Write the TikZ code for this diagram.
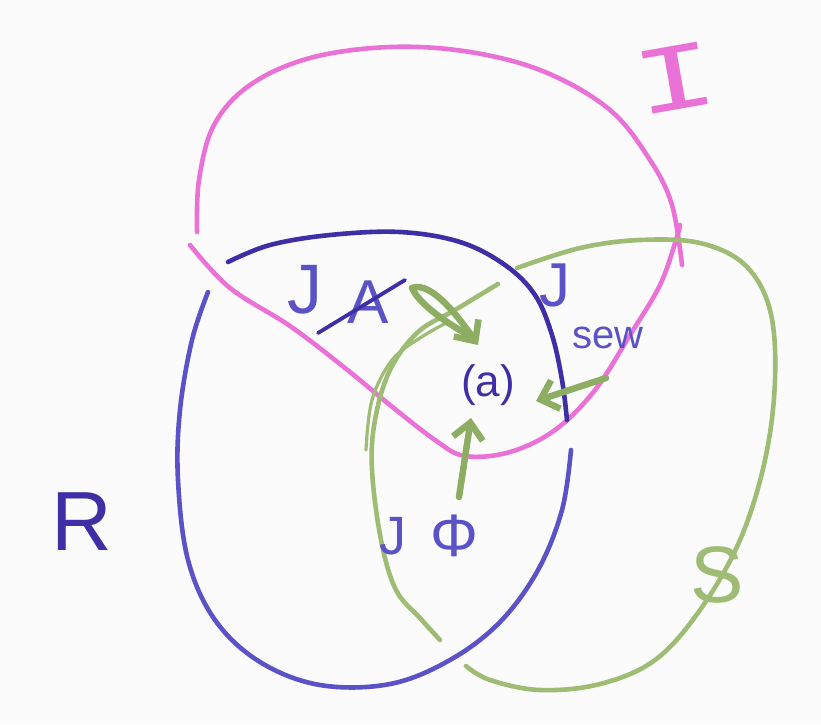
\documentclass[tikz,border=0pt]{standalone}
\usepackage{fontspec}
\setmainfont{Liberation Sans}
\newfontfamily\romanfont{Liberation Mono}
\usetikzlibrary{arrows.meta}
\definecolor{pinkink}{HTML}{EA72D6}
\definecolor{blueink}{HTML}{5A52C6}
\definecolor{darkblue}{HTML}{3E2FA6}
\definecolor{greenink}{HTML}{9EBC74}
\definecolor{greenarrow}{HTML}{8DAE62}
\tikzset{
  pinkline/.style={pinkink, line width=4.6pt, line cap=round, line join=round},
  blueline/.style={blueink, line width=4.6pt, line cap=round, line join=round},
  greenline/.style={greenink, line width=4.6pt, line cap=round, line join=round},
  garrow/.style={greenarrow, line width=6.5pt, line cap=round, -{Straight Barb[length=16pt,width=30pt,line width=6.5pt]}},
  lab/.style={text=blueink, inner sep=0pt},
}
\newcommand{\fsz}[1]{\fontsize{#1}{#1}\selectfont}
\begin{document}
\begin{tikzpicture}[x=1pt,y=-1pt]
\fill[white!97!gray] (0,0) rectangle (821,724);
\useasboundingbox (0,0) rectangle (821,724);

% pink set I
\draw[pinkline] plot[smooth, tension=0.6] coordinates {(197,232) (199,180) (214,125) (250,85) (310,58) (390,47) (470,52) (545,72) (610,110) (650,160) (672,205) (682,265)};
\draw[pinkline] plot[smooth, tension=0.6] coordinates {(190,245) (230,288) (290,326) (345,368) (390,405) (435,440) (465,456) (510,452) (555,430) (595,390) (630,335) (660,285) (676,240) (680,225)};

% blue set R
\draw[blueline, darkblue] plot[smooth, tension=0.6] coordinates {(228,262) (270,245) (330,235) (400,232) (460,242) (505,265) (535,295) (552,335) (562,380) (567,420)};
\draw[blueline] plot[smooth, tension=0.6] coordinates {(208,292) (192,340) (180,410) (178,480) (188,560) (215,620) (260,662) (320,685) (390,684) (450,660) (500,622) (538,570) (562,510) (571,450)};

% green set S
\draw[greenline] plot[smooth, tension=0.6] coordinates {(517,268) (580,248) (640,240) (700,243) (745,265) (770,310) (775,380) (765,460) (740,540) (700,610) (655,660) (600,684) (540,690) (490,680) (466,666)};
\draw[greenline] plot[smooth, tension=0.6] coordinates {(440,640) (420,618) (396,590) (381,540) (372,470) (375,420) (390,370) (418,332) (455,310) (498,284)};
\draw[greenline, line width=3.2pt] plot[smooth, tension=0.6] coordinates {(366,450) (372,400) (392,360) (420,338) (448,322)};

% green arrows
\draw[greenarrow, line width=6.5pt, line cap=round] (412,288) .. controls (420,306) and (452,326) .. (470,336);
\draw[garrow] (412,288) .. controls (432,280) and (462,322) .. (478,345);
\draw[garrow] (606,378) -- (536,401);
\draw[garrow] (459,497) -- (471,418);

% labels
\node[lab, text=pinkink, font=\romanfont\fsz{96}, rotate=10, xscale=1.45] (I) at (675,78) {I};
\node[lab, font=\fsz{70}] (J1) at (305,290) {J};
\node[lab, font=\fsz{62}] (A) at (368,302) {A};
\draw[blueline, darkblue, line width=3.8pt] (318,333) -- (405,280);
\node[lab, font=\fsz{62}] (J2) at (555,285) {J};
\node[lab, font=\fsz{40}] (sew) at (608,338) {sew};
\node[lab, text=darkblue, font=\fsz{44}] (a) at (488,385) {(a)};
\node[lab, font=\fsz{54}] (J3) at (393,536) {J};
\node[lab, font=\fsz{60}] (phi) at (454,536) {Φ};
\node[lab, text=darkblue, font=\fsz{84}] (R) at (82,522) {R};
\node[lab, text=greenink, font=\fsz{80}] (S) at (717,575) {S};
\end{tikzpicture}
\end{document}
